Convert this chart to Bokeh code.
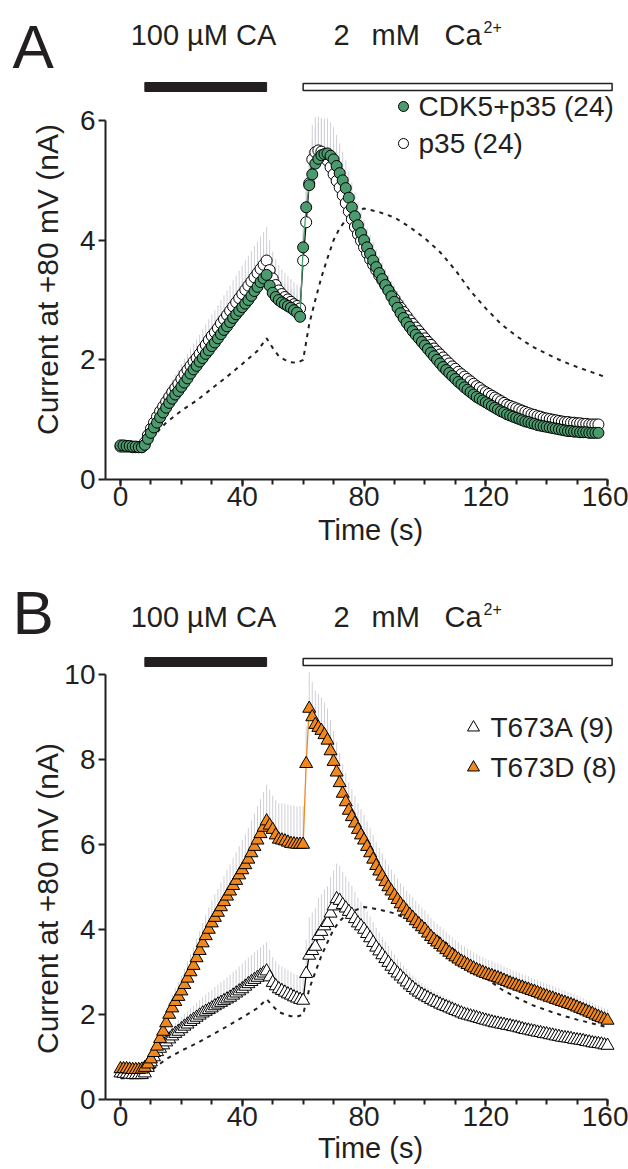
import math
from bokeh.plotting import figure
from bokeh.models import Label, Range1d, FixedTicker
from bokeh.layouts import column
from bokeh.embed import file_html
from bokeh.resources import INLINE

FONT = "Liberation Sans"
INK = "#231f20"
GREEN = "#4b9b6e"
ORANGE = "#f0871f"
ERR = "#cfcfd7"

# ---------------- data: panel A (one sample per second) ----------------
time_a = list(range(0, 158))
cdk5_p35 = [
    0.57, 0.57, 0.56, 0.56, 0.55, 0.55, 0.54, 0.54, 0.58, 0.68,
    0.78, 0.87, 0.95, 1.04, 1.12, 1.20, 1.28, 1.35, 1.42, 1.48,
    1.55, 1.62, 1.69, 1.77, 1.84, 1.90, 1.97, 2.03, 2.10, 2.16,
    2.23, 2.29, 2.36, 2.43, 2.50, 2.56, 2.63, 2.70, 2.76, 2.82,
    2.88, 2.94, 3.00, 3.07, 3.15, 3.22, 3.30, 3.36, 3.42, 3.24,
    3.12, 3.05, 3.00, 2.96, 2.93, 2.90, 2.87, 2.83, 2.79, 2.72,
    3.88, 4.55, 4.92, 5.10, 5.28, 5.36, 5.42, 5.44, 5.45, 5.41,
    5.35, 5.24, 5.12, 5.00, 4.87, 4.71, 4.55, 4.40, 4.25, 4.12,
    4.00, 3.88, 3.77, 3.66, 3.55, 3.45, 3.35, 3.25, 3.16, 3.06,
    2.97, 2.87, 2.78, 2.70, 2.62, 2.55, 2.48, 2.42, 2.36, 2.30,
    2.24, 2.18, 2.12, 2.06, 2.00, 1.94, 1.88, 1.83, 1.78, 1.73,
    1.68, 1.63, 1.59, 1.54, 1.50, 1.46, 1.42, 1.38, 1.35, 1.32,
    1.29, 1.26, 1.23, 1.20, 1.17, 1.14, 1.12, 1.09, 1.07, 1.05,
    1.03, 1.01, 0.99, 0.97, 0.96, 0.94, 0.93, 0.91, 0.90, 0.89,
    0.88, 0.87, 0.86, 0.85, 0.84, 0.83, 0.82, 0.81, 0.81, 0.80,
    0.80, 0.79, 0.79, 0.79, 0.78, 0.78, 0.78, 0.78]
cdk5_p35_sem = [
    0.04, 0.04, 0.04, 0.04, 0.04, 0.04, 0.04, 0.04, 0.06, 0.08,
    0.10, 0.11, 0.12, 0.13, 0.14, 0.15, 0.16, 0.17, 0.18, 0.19,
    0.20, 0.21, 0.22, 0.23, 0.24, 0.25, 0.26, 0.27, 0.28, 0.29,
    0.30, 0.31, 0.32, 0.33, 0.34, 0.35, 0.36, 0.37, 0.38, 0.39,
    0.40, 0.41, 0.42, 0.43, 0.44, 0.45, 0.46, 0.47, 0.48, 0.44,
    0.40, 0.38, 0.36, 0.35, 0.34, 0.33, 0.32, 0.31, 0.30, 0.30,
    0.45, 0.50, 0.55, 0.58, 0.60, 0.60, 0.60, 0.59, 0.58, 0.56,
    0.54, 0.52, 0.50, 0.48, 0.46, 0.44, 0.42, 0.40, 0.38, 0.36,
    0.35, 0.33, 0.32, 0.31, 0.30, 0.29, 0.28, 0.27, 0.26, 0.25,
    0.24, 0.23, 0.22, 0.21, 0.20, 0.20, 0.19, 0.19, 0.18, 0.18,
    0.17, 0.17, 0.16, 0.16, 0.15, 0.15, 0.14, 0.14, 0.13, 0.13,
    0.12, 0.12, 0.12, 0.12, 0.11, 0.11, 0.11, 0.11, 0.11, 0.10,
    0.10, 0.10, 0.10, 0.10, 0.09, 0.09, 0.09, 0.09, 0.09, 0.09,
    0.08, 0.08, 0.08, 0.08, 0.08, 0.08, 0.08, 0.07, 0.07, 0.07,
    0.07, 0.07, 0.07, 0.07, 0.07, 0.06, 0.06, 0.06, 0.06, 0.06,
    0.06, 0.06, 0.06, 0.06, 0.06, 0.06, 0.06, 0.06]
p35 = [
    0.55, 0.55, 0.55, 0.55, 0.54, 0.54, 0.54, 0.54, 0.62, 0.74,
    0.85, 0.95, 1.05, 1.14, 1.22, 1.30, 1.38, 1.46, 1.53, 1.60,
    1.68, 1.76, 1.83, 1.90, 1.97, 2.03, 2.10, 2.18, 2.25, 2.33,
    2.40, 2.46, 2.53, 2.61, 2.68, 2.75, 2.82, 2.89, 2.96, 3.03,
    3.10, 3.17, 3.24, 3.31, 3.38, 3.45, 3.52, 3.59, 3.66, 3.50,
    3.36, 3.25, 3.16, 3.10, 3.05, 3.01, 2.97, 2.93, 2.90, 2.86,
    3.66, 4.30, 4.95, 5.35, 5.47, 5.50, 5.48, 5.42, 5.33, 5.22,
    5.10, 4.99, 4.88, 4.75, 4.62, 4.48, 4.35, 4.22, 4.10, 3.99,
    3.88, 3.78, 3.68, 3.59, 3.50, 3.41, 3.33, 3.25, 3.17, 3.09,
    3.02, 2.94, 2.87, 2.80, 2.73, 2.66, 2.60, 2.54, 2.48, 2.42,
    2.36, 2.30, 2.25, 2.19, 2.14, 2.09, 2.04, 1.99, 1.94, 1.89,
    1.85, 1.80, 1.76, 1.72, 1.68, 1.64, 1.60, 1.56, 1.53, 1.49,
    1.46, 1.43, 1.40, 1.37, 1.34, 1.31, 1.28, 1.25, 1.23, 1.21,
    1.19, 1.17, 1.15, 1.13, 1.11, 1.09, 1.08, 1.06, 1.05, 1.03,
    1.02, 1.01, 1.00, 0.99, 0.98, 0.97, 0.96, 0.96, 0.95, 0.95,
    0.94, 0.94, 0.93, 0.93, 0.92, 0.92, 0.92, 0.92]
p35_sem = [
    0.05, 0.05, 0.05, 0.05, 0.05, 0.05, 0.05, 0.05, 0.08, 0.10,
    0.12, 0.14, 0.15, 0.17, 0.18, 0.19, 0.20, 0.21, 0.22, 0.24,
    0.25, 0.26, 0.27, 0.29, 0.30, 0.31, 0.32, 0.33, 0.34, 0.35,
    0.36, 0.37, 0.38, 0.39, 0.40, 0.41, 0.42, 0.44, 0.45, 0.46,
    0.47, 0.49, 0.50, 0.51, 0.52, 0.53, 0.54, 0.55, 0.56, 0.50,
    0.45, 0.44, 0.42, 0.41, 0.40, 0.39, 0.38, 0.37, 0.36, 0.36,
    0.45, 0.50, 0.55, 0.57, 0.58, 0.57, 0.56, 0.54, 0.52, 0.50,
    0.48, 0.46, 0.44, 0.42, 0.40, 0.38, 0.37, 0.35, 0.34, 0.32,
    0.31, 0.30, 0.29, 0.28, 0.27, 0.26, 0.25, 0.24, 0.23, 0.22,
    0.22, 0.21, 0.20, 0.20, 0.19, 0.19, 0.18, 0.18, 0.17, 0.17,
    0.16, 0.16, 0.15, 0.15, 0.15, 0.14, 0.14, 0.14, 0.13, 0.13,
    0.13, 0.13, 0.12, 0.12, 0.12, 0.12, 0.11, 0.11, 0.11, 0.11,
    0.10, 0.10, 0.10, 0.10, 0.10, 0.10, 0.10, 0.09, 0.09, 0.09,
    0.09, 0.09, 0.09, 0.09, 0.09, 0.08, 0.08, 0.08, 0.08, 0.08,
    0.08, 0.08, 0.08, 0.08, 0.08, 0.08, 0.07, 0.07, 0.07, 0.07,
    0.07, 0.07, 0.07, 0.07, 0.07, 0.07, 0.07, 0.07]

# ---------------- data: panel B (one sample per second) ----------------
time_b = list(range(0, 161))
t673d = [
    0.72, 0.72, 0.72, 0.71, 0.70, 0.70, 0.70, 0.71, 0.75, 0.83,
    0.95, 1.10, 1.25, 1.43, 1.60, 1.80, 2.00, 2.15, 2.30, 2.42,
    2.55, 2.70, 2.85, 3.00, 3.15, 3.33, 3.50, 3.68, 3.85, 4.00,
    4.15, 4.28, 4.40, 4.53, 4.65, 4.78, 4.90, 5.03, 5.15, 5.28,
    5.40, 5.52, 5.65, 5.80, 5.95, 6.10, 6.25, 6.40, 6.55, 6.45,
    6.35, 6.22, 6.12, 6.10, 6.08, 6.05, 6.02, 6.01, 6.00, 6.00,
    6.00, 7.90, 9.20, 9.00, 8.82, 8.75, 8.68, 8.58, 8.45, 8.20,
    7.95, 7.70, 7.45, 7.20, 7.00, 6.80, 6.65, 6.50, 6.35, 6.22,
    6.10, 5.95, 5.80, 5.65, 5.50, 5.37, 5.25, 5.12, 5.00, 4.90,
    4.80, 4.70, 4.60, 4.52, 4.43, 4.35, 4.28, 4.20, 4.13, 4.06,
    4.00, 3.91, 3.83, 3.76, 3.70, 3.64, 3.58, 3.52, 3.46, 3.40,
    3.35, 3.30, 3.25, 3.21, 3.17, 3.13, 3.09, 3.05, 3.02, 2.99,
    2.96, 2.93, 2.91, 2.88, 2.86, 2.83, 2.80, 2.77, 2.74, 2.71,
    2.69, 2.66, 2.64, 2.61, 2.59, 2.56, 2.54, 2.51, 2.48, 2.45,
    2.43, 2.40, 2.38, 2.35, 2.33, 2.30, 2.28, 2.25, 2.23, 2.20,
    2.17, 2.14, 2.11, 2.08, 2.05, 2.02, 1.98, 1.95, 1.92, 1.89,
    1.86]
t673d_sem = [
    0.10, 0.10, 0.10, 0.10, 0.10, 0.10, 0.10, 0.10, 0.12, 0.13,
    0.15, 0.18, 0.20, 0.23, 0.25, 0.28, 0.30, 0.32, 0.33, 0.35,
    0.36, 0.38, 0.40, 0.42, 0.43, 0.45, 0.46, 0.48, 0.50, 0.52,
    0.53, 0.55, 0.56, 0.58, 0.60, 0.62, 0.63, 0.65, 0.66, 0.68,
    0.70, 0.72, 0.74, 0.76, 0.78, 0.80, 0.82, 0.84, 0.86, 0.84,
    0.80, 0.82, 0.85, 0.87, 0.88, 0.89, 0.90, 0.90, 0.90, 0.90,
    0.90, 0.88, 0.85, 0.82, 0.80, 0.79, 0.78, 0.76, 0.75, 0.73,
    0.72, 0.71, 0.70, 0.69, 0.68, 0.66, 0.65, 0.64, 0.62, 0.61,
    0.60, 0.59, 0.58, 0.57, 0.56, 0.55, 0.54, 0.53, 0.52, 0.51,
    0.50, 0.50, 0.49, 0.49, 0.48, 0.48, 0.47, 0.47, 0.46, 0.46,
    0.45, 0.45, 0.44, 0.44, 0.43, 0.43, 0.42, 0.42, 0.41, 0.41,
    0.40, 0.40, 0.39, 0.39, 0.38, 0.38, 0.37, 0.37, 0.36, 0.36,
    0.35, 0.35, 0.35, 0.34, 0.34, 0.34, 0.33, 0.33, 0.33, 0.32,
    0.32, 0.32, 0.31, 0.31, 0.31, 0.30, 0.30, 0.30, 0.30, 0.30,
    0.30, 0.30, 0.30, 0.29, 0.29, 0.29, 0.29, 0.28, 0.28, 0.28,
    0.28, 0.27, 0.27, 0.27, 0.27, 0.26, 0.26, 0.26, 0.26, 0.26,
    0.26]
t673a = [
    0.62, 0.61, 0.60, 0.59, 0.58, 0.58, 0.58, 0.58, 0.62, 0.75,
    0.88, 1.00, 1.12, 1.20, 1.28, 1.35, 1.42, 1.49, 1.55, 1.60,
    1.66, 1.72, 1.77, 1.83, 1.88, 1.93, 1.98, 2.03, 2.07, 2.11,
    2.15, 2.20, 2.24, 2.28, 2.32, 2.36, 2.40, 2.45, 2.50, 2.55,
    2.60, 2.66, 2.72, 2.77, 2.82, 2.87, 2.92, 2.97, 3.02, 2.88,
    2.75, 2.67, 2.60, 2.56, 2.52, 2.48, 2.45, 2.41, 2.38, 2.35,
    2.33, 2.96, 3.39, 3.50, 3.60, 3.85, 3.95, 4.08, 4.16, 4.38,
    4.55, 4.72, 4.68, 4.58, 4.50, 4.42, 4.35, 4.25, 4.15, 4.08,
    4.00, 3.90, 3.80, 3.69, 3.58, 3.49, 3.40, 3.31, 3.22, 3.13,
    3.05, 2.97, 2.90, 2.83, 2.76, 2.69, 2.63, 2.57, 2.52, 2.47,
    2.43, 2.39, 2.35, 2.31, 2.28, 2.24, 2.21, 2.18, 2.15, 2.12,
    2.09, 2.06, 2.03, 2.00, 1.98, 1.96, 1.94, 1.92, 1.90, 1.88,
    1.86, 1.84, 1.82, 1.80, 1.79, 1.77, 1.76, 1.74, 1.73, 1.71,
    1.70, 1.68, 1.66, 1.64, 1.63, 1.61, 1.60, 1.58, 1.57, 1.55,
    1.54, 1.52, 1.51, 1.49, 1.48, 1.46, 1.45, 1.44, 1.43, 1.41,
    1.40, 1.39, 1.38, 1.36, 1.35, 1.33, 1.32, 1.31, 1.30, 1.28,
    1.27]
t673a_sem = [
    0.08, 0.08, 0.08, 0.08, 0.08, 0.08, 0.08, 0.08, 0.10, 0.12,
    0.15, 0.17, 0.18, 0.19, 0.20, 0.21, 0.22, 0.24, 0.25, 0.27,
    0.28, 0.29, 0.30, 0.32, 0.33, 0.35, 0.36, 0.38, 0.40, 0.42,
    0.43, 0.45, 0.46, 0.48, 0.50, 0.52, 0.53, 0.55, 0.56, 0.58,
    0.60, 0.61, 0.62, 0.63, 0.64, 0.65, 0.66, 0.67, 0.68, 0.64,
    0.60, 0.59, 0.58, 0.57, 0.56, 0.56, 0.55, 0.55, 0.55, 0.55,
    0.60, 0.80, 0.90, 0.90, 0.90, 0.89, 0.88, 0.87, 0.86, 0.85,
    0.84, 0.83, 0.82, 0.78, 0.75, 0.71, 0.68, 0.64, 0.60, 0.57,
    0.55, 0.52, 0.50, 0.48, 0.46, 0.44, 0.42, 0.40, 0.39, 0.37,
    0.36, 0.34, 0.33, 0.32, 0.31, 0.30, 0.29, 0.28, 0.27, 0.27,
    0.26, 0.25, 0.25, 0.24, 0.24, 0.23, 0.23, 0.22, 0.22, 0.21,
    0.21, 0.20, 0.20, 0.20, 0.20, 0.19, 0.19, 0.19, 0.19, 0.18,
    0.18, 0.18, 0.18, 0.17, 0.17, 0.17, 0.17, 0.16, 0.16, 0.16,
    0.16, 0.16, 0.16, 0.15, 0.15, 0.15, 0.15, 0.15, 0.15, 0.14,
    0.14, 0.14, 0.14, 0.14, 0.13, 0.13, 0.13, 0.13, 0.13, 0.13,
    0.12, 0.12, 0.12, 0.12, 0.12, 0.12, 0.12, 0.12, 0.11, 0.11,
    0.11]

# dashed control trace (same in both panels)
control_time = [0, 4, 8, 10, 15, 20, 25, 30, 35, 40, 45, 48, 50, 52, 54, 56, 58, 60, 61, 62, 64, 66,
                68, 70, 72, 75, 80, 85, 90, 95, 100, 105, 110, 115, 120, 125, 130, 135, 140, 145,
                150, 155, 160]
control = [0.50, 0.50, 0.52, 0.68, 0.95, 1.15, 1.32, 1.52, 1.72, 1.93, 2.15, 2.36, 2.20, 2.06, 2.00,
           1.96, 1.95, 2.00, 2.30, 2.60, 3.00, 3.38, 3.70, 4.00, 4.20, 4.40, 4.53, 4.47, 4.38, 4.22,
           4.03, 3.80, 3.50, 3.15, 2.86, 2.60, 2.40, 2.23, 2.10, 1.98, 1.88, 1.79, 1.70]

x_ticks = [0, 40, 80, 120, 160]
x_minor = list(range(0, 161, 10))
ya_ticks = [0, 2, 4, 6]
yb_ticks = [0, 2, 4, 6, 8, 10]
ca_window = (8, 48)
calcium_window = (60, 161.5)
legend_a = ["CDK5+p35 (24)", "p35 (24)"]
legend_b = ["T673A (9)", "T673D (8)"]

# ---------------- geometry (page pixels; page origin at top-left) ----------------
W = 628
X0_PX, X_PX_PER_S = 120.0, 3.044
AXIS_X_PX = 105.0


def tx(px):
    return (px - X0_PX) / X_PX_PER_S


x_axis_at = tx(AXIS_X_PX)


def make_fig(top_px, bottom_px, zero_px, px_per_unit, yticks, ymax):
    height = int(bottom_px - top_px)
    p = figure(width=W, height=height,
               x_range=Range1d(tx(0), tx(W)),
               y_range=Range1d((zero_px - bottom_px) / px_per_unit, (zero_px - top_px) / px_per_unit),
               output_backend="svg", toolbar_location=None, min_border=0,
               min_border_left=0, min_border_right=0, min_border_top=0, min_border_bottom=0)
    p.outline_line_color = None
    p.xgrid.visible = False
    p.ygrid.visible = False
    p.xaxis.fixed_location = 0
    p.yaxis.fixed_location = x_axis_at
    p.xaxis.bounds = (x_axis_at, 160)
    p.yaxis.bounds = (0, ymax)
    p.xaxis.ticker = FixedTicker(ticks=x_ticks, minor_ticks=x_minor)
    p.yaxis.ticker = FixedTicker(ticks=yticks)
    for ax in (p.xaxis[0], p.yaxis[0]):
        ax.axis_line_width = 2
        ax.axis_line_color = INK
        ax.major_tick_line_width = 2
        ax.major_tick_line_color = INK
        ax.minor_tick_line_width = 2
        ax.minor_tick_line_color = INK
        ax.major_tick_in = 0
        ax.major_tick_out = 7
        ax.minor_tick_in = 0
        ax.minor_tick_out = 5
        ax.major_label_text_font = FONT
        ax.major_label_text_font_size = "28px"
        ax.major_label_text_color = INK
    p.xaxis.major_label_standoff = 0
    p.yaxis.major_label_standoff = 3
    p.yaxis.minor_tick_out = 0
    return p


def ty_factory(zero_px, px_per_unit):
    return lambda py: (zero_px - py) / px_per_unit


def add_text(p, x, y, text, size, align="left", angle=0.0):
    # y is the visual centre of the text
    p.add_layout(Label(x=x, y=y, text=text, text_font=FONT, text_font_size=f"{size}px",
                       text_color=INK, text_align=align, text_baseline="middle", angle=angle))


def add_header(p, ty, letter, letter_mid, text_mid, bar_top, bar_bot):
    add_text(p, tx(12), ty(letter_mid), letter, 62)
    add_text(p, tx(203), ty(text_mid), "100 µM CA", 29, align="center")
    add_text(p, tx(333), ty(text_mid), "2", 29)
    add_text(p, tx(371), ty(text_mid), "mM", 29)
    add_text(p, tx(444), ty(text_mid), "Ca", 29)
    add_text(p, tx(483), ty(text_mid - 8), "2+", 16)
    p.quad(left=[ca_window[0]], right=[ca_window[1]], top=[ty(bar_top)], bottom=[ty(bar_bot)],
           fill_color=INK, line_color=INK, line_width=1)
    p.quad(left=[calcium_window[0]], right=[calcium_window[1]], top=[ty(bar_top + 1)],
           bottom=[ty(bar_bot - 1)], fill_color="white", line_color=INK, line_width=1.5)


def add_series(p, t, y, marker, fill, line_color, size):
    p.line(t, y, line_color=line_color, line_width=1.3)
    p.scatter(t, y, marker=marker, size=size, fill_color=fill, line_color="black", line_width=1)


def add_errs(p, t, y, sem):
    p.segment(x0=t, y0=y, x1=t, y1=[a + b for a, b in zip(y, sem)], line_color=ERR, line_width=1)


# ---------------- panel A ----------------
A_ZERO, A_PPU = 479.0, 59.83
tyA = ty_factory(A_ZERO, A_PPU)
pA = make_fig(0.0, 560.0, A_ZERO, A_PPU, ya_ticks, 6)
add_errs(pA, time_a, p35, p35_sem)
add_errs(pA, time_a, cdk5_p35, cdk5_p35_sem)
pA.line(control_time, control, line_color=INK, line_width=2, line_dash="4 5")
add_series(pA, time_a, p35, "circle", "white", "black", 11)
add_series(pA, time_a, cdk5_p35, "circle", GREEN, GREEN, 11)
add_header(pA, tyA, "A", 46, 34, 82, 91)
pA.scatter([tx(403), tx(403)], [tyA(106), tyA(143)], marker="circle", size=10,
           fill_color=[GREEN, "white"], line_color="black", line_width=1)
add_text(pA, tx(418), tyA(106), legend_a[0], 28)
add_text(pA, tx(418), tyA(143), legend_a[1], 28)
add_text(pA, tx(47), tyA(279), "Current at +80 mV (nA)", 30, align="center", angle=math.pi / 2)
add_text(pA, tx(370), tyA(529), "Time (s)", 29, align="center")

# ---------------- panel B ----------------
B_ZERO, B_PPU = 1099.0, 42.5
tyB = ty_factory(B_ZERO, B_PPU)
pB = make_fig(560.0, 1169.0, B_ZERO, B_PPU, yb_ticks, 10)
add_errs(pB, time_b, t673a, t673a_sem)
add_errs(pB, time_b, t673d, t673d_sem)
pB.line(control_time, control, line_color=INK, line_width=2, line_dash="4 5")
add_series(pB, time_b, t673a, "triangle", "white", "black", 13)
add_series(pB, time_b, t673d, "triangle", ORANGE, ORANGE, 13)
add_header(pB, tyB, "B", 612, 616, 657, 666)
pB.scatter([tx(473), tx(473)], [tyB(727), tyB(767)], marker="triangle", size=12,
           fill_color=["white", ORANGE], line_color="black", line_width=1)
add_text(pB, tx(490), tyB(727), legend_b[0], 28)
add_text(pB, tx(490), tyB(767), legend_b[1], 28)
add_text(pB, tx(47), tyB(898), "Current at +80 mV (nA)", 30, align="center", angle=math.pi / 2)
add_text(pB, tx(370), tyB(1147), "Time (s)", 29, align="center")

layout = column(pA, pB, spacing=0)
open("out.html", "w").write(file_html(layout, INLINE))
